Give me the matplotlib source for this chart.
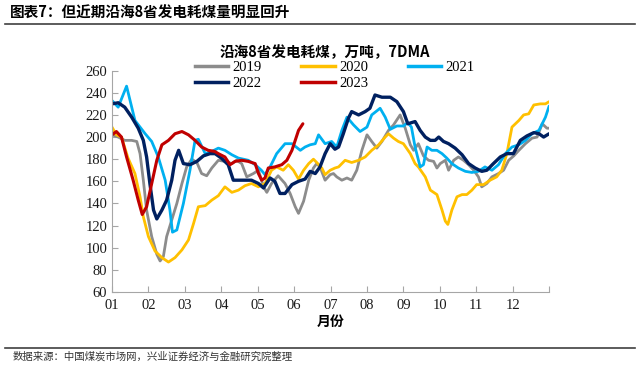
import matplotlib
matplotlib.use('Agg')
import matplotlib.pyplot as plt
from matplotlib.lines import Line2D

plt.rcParams['font.family'] = ['Liberation Serif', 'Noto Sans CJK SC']

# x = month position (0 = 1 Jan, 12 = end Dec), y = 10k tonnes (7DMA)
m2019 = [0, 0.17, 0.35, 0.54, 0.68, 0.77, 0.86, 0.95, 1.09, 1.23, 1.32, 1.41, 1.5, 1.64, 1.78, 1.92, 2.05, 2.19, 2.33, 2.46, 2.6, 2.74, 2.92, 3.1, 3.29, 3.42, 3.56, 3.7, 3.88, 4.02, 4.16, 4.25, 4.38, 4.56, 4.75, 4.89, 5.03, 5.12, 5.26, 5.4, 5.53, 5.62, 5.71, 5.85, 5.99, 6.08, 6.17, 6.31, 6.45, 6.58, 6.72, 6.86, 7.0, 7.13, 7.27, 7.41, 7.59, 7.73, 7.91, 8.05, 8.19, 8.28, 8.41, 8.55, 8.69, 8.83, 8.92, 9.01, 9.15, 9.24, 9.38, 9.51, 9.65, 9.79, 9.93, 10.06, 10.15, 10.29, 10.43, 10.61, 10.75, 10.89, 11.03, 11.17, 11.35, 11.53, 11.67, 11.81, 11.94, 12.0]
v2019 = [202, 200, 197, 197, 196, 185, 161, 134, 110, 94, 88, 92, 110, 125, 140, 158, 173, 180, 177, 167, 165, 172, 179, 178, 176, 179, 176, 164, 167, 170, 155, 150, 158, 165, 158, 149, 137, 131, 142, 161, 172, 176, 173, 161, 166, 167, 164, 161, 163, 161, 170, 188, 202, 196, 190, 196, 206, 211, 220, 208, 193, 188, 194, 183, 179, 178, 172, 176, 179, 170, 179, 182, 179, 175, 170, 164, 155, 158, 164, 167, 170, 179, 183, 188, 194, 199, 200, 212, 208, 208]

m2020 = [0, 0.12, 0.26, 0.44, 0.63, 0.77, 0.86, 1.0, 1.18, 1.37, 1.55, 1.73, 1.92, 2.1, 2.24, 2.37, 2.56, 2.74, 2.92, 3.1, 3.29, 3.47, 3.65, 3.83, 4.02, 4.2, 4.38, 4.52, 4.7, 4.84, 4.98, 5.12, 5.26, 5.4, 5.53, 5.62, 5.76, 5.85, 5.99, 6.12, 6.22, 6.4, 6.58, 6.77, 6.95, 7.13, 7.32, 7.5, 7.59, 7.73, 7.86, 8.0, 8.19, 8.32, 8.41, 8.6, 8.74, 8.92, 9.06, 9.15, 9.22, 9.33, 9.47, 9.61, 9.74, 9.88, 10.01, 10.2, 10.38, 10.56, 10.7, 10.84, 10.98, 11.17, 11.3, 11.44, 11.58, 11.76, 11.9, 12.0]
v2020 = [209, 202, 200, 181, 167, 146, 128, 110, 97, 91, 87, 91, 98, 107, 122, 137, 138, 143, 147, 155, 150, 152, 156, 158, 155, 158, 170, 173, 170, 175, 170, 162, 170, 176, 180, 177, 172, 166, 170, 172, 173, 179, 177, 179, 182, 188, 193, 200, 203, 199, 196, 194, 185, 176, 173, 164, 152, 148, 134, 124, 121, 134, 146, 148, 148, 152, 157, 157, 161, 164, 170, 185, 209, 215, 220, 221, 229, 230, 230, 232]

m2021 = [0, 0.17, 0.4, 0.63, 0.91, 1.09, 1.27, 1.46, 1.59, 1.66, 1.78, 1.96, 2.14, 2.28, 2.37, 2.56, 2.74, 2.92, 3.1, 3.29, 3.47, 3.74, 3.93, 4.1, 4.2, 4.34, 4.52, 4.75, 4.94, 5.17, 5.3, 5.44, 5.58, 5.67, 5.85, 6.03, 6.17, 6.31, 6.45, 6.63, 6.81, 7.0, 7.13, 7.36, 7.5, 7.64, 7.82, 8.0, 8.12, 8.22, 8.32, 8.46, 8.55, 8.65, 8.78, 8.92, 9.06, 9.19, 9.33, 9.51, 9.7, 9.88, 10.06, 10.24, 10.43, 10.61, 10.8, 10.98, 11.17, 11.35, 11.53, 11.72, 11.9, 12.0]
v2021 = [233, 227, 246, 215, 203, 196, 182, 161, 134, 114, 116, 140, 170, 197, 198, 185, 187, 190, 188, 184, 181, 179, 175, 170, 166, 173, 185, 194, 194, 188, 191, 193, 194, 202, 194, 196, 191, 206, 218, 211, 205, 209, 220, 226, 218, 207, 210, 210, 213, 209, 191, 173, 175, 191, 188, 188, 185, 181, 176, 172, 169, 168, 169, 173, 170, 175, 185, 191, 193, 197, 203, 206, 218, 228]

m2022 = [0, 0.17, 0.35, 0.54, 0.72, 0.86, 0.95, 1.04, 1.14, 1.23, 1.37, 1.5, 1.64, 1.73, 1.83, 1.96, 2.14, 2.33, 2.51, 2.69, 2.83, 3.0, 3.19, 3.33, 3.56, 3.83, 4.02, 4.16, 4.34, 4.47, 4.61, 4.75, 4.94, 5.12, 5.3, 5.44, 5.58, 5.71, 5.85, 5.99, 6.12, 6.22, 6.35, 6.49, 6.58, 6.77, 6.95, 7.08, 7.22, 7.41, 7.64, 7.82, 8.0, 8.12, 8.22, 8.32, 8.46, 8.6, 8.74, 8.87, 8.97, 9.1, 9.24, 9.42, 9.61, 9.79, 9.97, 10.15, 10.29, 10.47, 10.66, 10.84, 11.02, 11.21, 11.39, 11.58, 11.72, 11.85, 12.0]
v2022 = [230, 231, 227, 218, 208, 197, 182, 158, 134, 126, 134, 143, 161, 179, 188, 176, 175, 178, 183, 185, 185, 181, 175, 161, 161, 161, 158, 154, 163, 160, 149, 149, 157, 160, 162, 169, 167, 173, 185, 194, 189, 191, 203, 217, 223, 220, 223, 226, 238, 236, 236, 232, 223, 212, 213, 214, 206, 200, 197, 197, 200, 196, 194, 190, 184, 176, 172, 169, 170, 176, 182, 185, 185, 197, 201, 204, 203, 200, 203]

m2023 = [0, 0.12, 0.26, 0.4, 0.58, 0.72, 0.83, 0.95, 1.09, 1.23, 1.37, 1.55, 1.73, 1.92, 2.1, 2.28, 2.46, 2.64, 2.82, 2.92, 3.1, 3.24, 3.38, 3.56, 3.74, 3.93, 4.02, 4.11, 4.2, 4.29, 4.47, 4.66, 4.8, 4.94, 5.03, 5.12, 5.24]
v2023 = [202, 205, 200, 182, 161, 143, 130, 137, 158, 179, 193, 197, 203, 205, 202, 197, 191, 188, 187, 185, 182, 175, 178, 179, 178, 176, 167, 161, 163, 172, 173, 175, 179, 188, 197, 206, 212]

month_labels = ['01', '02', '03', '04', '05', '06', '07', '08', '09', '10', '11', '12']
yticks = [60, 80, 100, 120, 140, 160, 180, 200, 220, 240, 260]

series = [
    ('2019', m2019, v2019, '#8C8C8C', 2.0),
    ('2020', m2020, v2020, '#FFC000', 2.0),
    ('2021', m2021, v2021, '#00B0F0', 2.0),
    ('2022', m2022, v2022, '#002060', 2.4),
    ('2023', m2023, v2023, '#C00000', 2.2),
]

fig = plt.figure(figsize=(6.4, 3.7), dpi=100)
ax = fig.add_axes([0.175, 0.211, 0.683, 0.598])

for name, xs, ys, c, lw in series:
    ax.plot(xs, ys, color=c, lw=lw, label=name, solid_capstyle='round')

ax.set_xlim(0, 12)
ax.set_ylim(60, 260)
ax.set_yticks(yticks)
ax.set_xticks(range(13))
ax.set_xticklabels(month_labels + [''])
grey = '#A6A6A6'
for sp in ('top', 'right'):
    ax.spines[sp].set_visible(False)
for sp in ('left', 'bottom'):
    ax.spines[sp].set_color(grey)
ax.tick_params(axis='both', direction='in', colors=grey, labelcolor='#1a1a1a',
               labelsize=10.5, length=4)
ax.tick_params(axis='x', pad=5)
ax.set_xlabel('月份', fontsize=10, fontweight='bold', family=['Noto Sans CJK SC'], labelpad=2)

# legend is filled column-wise, so reorder to get rows 2019/2020/2021 and 2022/2023
order = [0, 3, 1, 4, 2]
handles = [Line2D([0], [0], color=series[i][3], lw=2.5) for i in order]
labels = [series[i][0] for i in order]
leg = ax.legend(handles, labels, ncol=3, loc='upper center',
                bbox_to_anchor=(0.51, 1.07), frameon=False, fontsize=10.5,
                handlelength=2.3, columnspacing=2.7, handletextpad=0.3,
                labelspacing=0.2, borderaxespad=0)

fig.text(0.508, 0.858, '沿海8省发电耗煤，万吨，7DMA', ha='center', va='center',
         fontsize=10.5, fontweight='bold', family=['Noto Sans CJK SC'])

fig.text(0.016, 0.966, '图表7：但近期沿海8省发电耗煤量明显回升', ha='left', va='center',
         fontsize=10.5, fontweight='bold', family=['Noto Sans CJK SC'])
fig.add_artist(Line2D([0.008, 0.992], [0.936, 0.936], color='#404040', lw=1.2))
fig.add_artist(Line2D([0.008, 0.992], [0.06, 0.06], color='#404040', lw=1.2))
fig.text(0.02, 0.035, '数据来源：中国煤炭市场网，兴业证券经济与金融研究院整理', ha='left',
         va='center', fontsize=7.5, family=['Noto Sans CJK SC'], color='#333333')

fig.savefig('out.png', dpi=100, facecolor='white')
